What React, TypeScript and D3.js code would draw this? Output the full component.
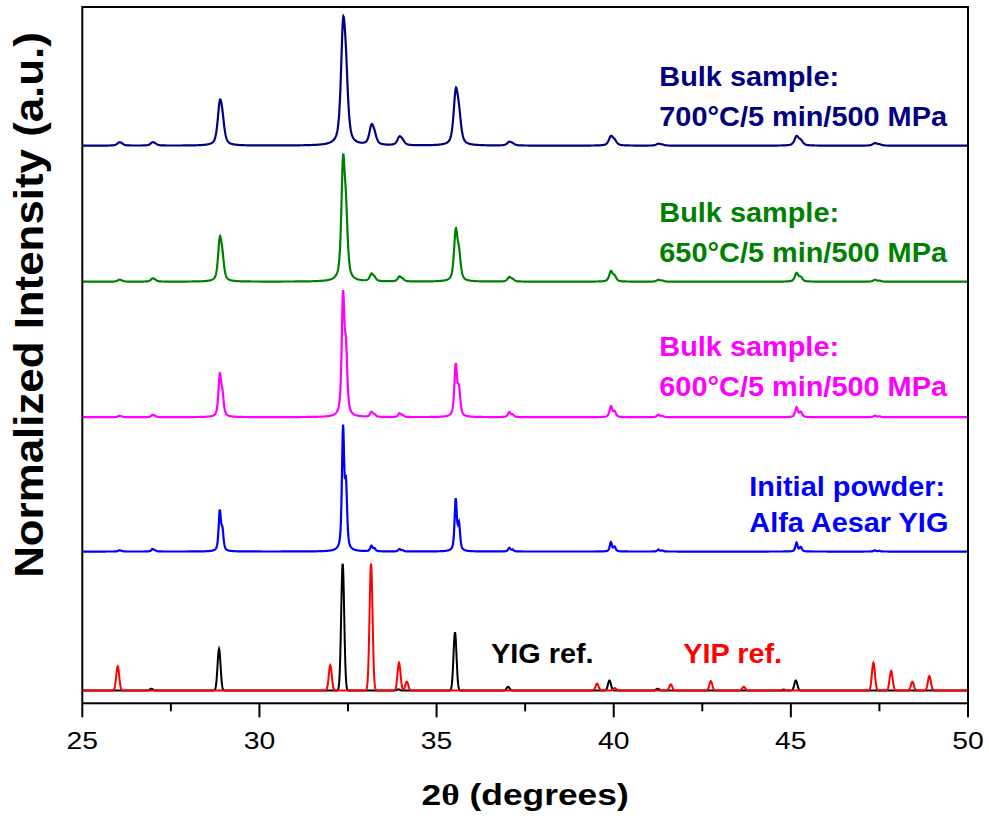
import React from "react";
import * as d3 from "d3";

// ---- data ----
const X_DOMAIN: [number, number] = [25, 50];
const X_MAJOR = [25, 30, 35, 40, 45, 50];
const X_MINOR = [27.5, 32.5, 37.5, 42.5, 47.5];

// common reflection positions of measured patterns (2θ, degrees)
const PEAK_POS = [26.04, 26.98, 28.88, 32.36, 33.16, 33.95, 35.54, 37.05, 39.92, 41.26, 45.16, 47.37];
const INT_700 = [0.026, 0.026, 0.355, 1.0, 0.16, 0.07, 0.45, 0.03, 0.077, 0.015, 0.077, 0.02];
const INT_650 = [0.015, 0.026, 0.355, 1.0, 0.06, 0.04, 0.42, 0.037, 0.085, 0.015, 0.07, 0.015];
const INT_600 = [0.01, 0.018, 0.345, 1.0, 0.04, 0.03, 0.425, 0.04, 0.087, 0.02, 0.08, 0.012];
const INT_POWDER = [0.01, 0.02, 0.33, 1.0, 0.045, 0.02, 0.42, 0.03, 0.074, 0.016, 0.07, 0.01];

// reference patterns
const YIG_POS = [26.95, 28.86, 32.35, 33.92, 35.52, 37.02, 39.88, 41.24, 45.14];
const YIG_INT = [0.015, 0.33, 1.0, 0.01, 0.46, 0.03, 0.08, 0.015, 0.08];
const YIP_POS = [26.0, 32.0, 33.15, 33.94, 34.16, 39.53, 40.03, 41.61, 42.74, 43.67, 44.8, 47.33, 47.83, 48.43, 48.91];
const YIP_INT = [0.19, 0.2, 1.0, 0.22, 0.07, 0.055, 0.02, 0.05, 0.075, 0.03, 0.01, 0.22, 0.155, 0.07, 0.115];

const LABEL_700 = ["Bulk sample:", "700°C/5 min/500 MPa"];
const LABEL_650 = ["Bulk sample:", "650°C/5 min/500 MPa"];
const LABEL_600 = ["Bulk sample:", "600°C/5 min/500 MPa"];
const LABEL_POWDER = ["Initial powder:", "Alfa Aesar YIG"];
const REF_LABELS = ["YIG ref.", "YIP ref."];
const X_TITLE = "(degrees)";
const Y_TITLE = "Normalized Intensity (a.u.)";

// ---- layout ----
const W = 989, H = 818;
const PL = 82.3, PR = 968, PT = 7, PB = 703.3;
const FONT = "'Liberation Sans', Arial, Helvetica, sans-serif";

const x = d3.scaleLinear().domain(X_DOMAIN).range([PL, PR]);
const y = d3.scaleLinear().domain([-0.1, 5.383]).range([PB, PT]);

const STEP = 0.01;
const GRID = d3.range(X_DOMAIN[0], X_DOMAIN[1] + STEP / 2, STEP);

function pv(d: number, w: number, eta: number) {
  const t = (d / w) * (d / w);
  return eta / (1 + 4 * t) + (1 - eta) * Math.exp(-4 * Math.LN2 * t);
}
const KA2 = 0.002512; // relative Cu Kα2 - Kα1 wavelength difference
function profile(pos: number[], ints: number[], w: number, eta: number, ka2: number) {
  return GRID.map((xx) => {
    let s = 0;
    pos.forEach((p, i) => {
      const dlt = ((2 * Math.tan(((p / 2) * Math.PI) / 180) * KA2) * 180) / Math.PI;
      const norm = 1 + ka2 * pv(dlt, w, eta);
      s += (ints[i] * (pv(xx - p, w, eta) + ka2 * pv(xx - p - dlt, w, eta))) / norm;
    });
    return [xx, s] as [number, number];
  });
}

const series = [
  { ints: INT_700, off: 4.291, w: 0.145, eta: 0.6, color: "#000080", label: LABEL_700, lx: 659.3, ly: [86, 126] },
  { ints: INT_650, off: 3.22, w: 0.115, eta: 0.6, color: "#008000", label: LABEL_650, lx: 659.3, ly: [221.7, 261.7] },
  { ints: INT_600, off: 2.153, w: 0.09, eta: 0.6, color: "#FF00FF", label: LABEL_600, lx: 659.3, ly: [356, 396] },
  { ints: INT_POWDER, off: 1.095, w: 0.075, eta: 0.6, color: "#0000FF", label: LABEL_POWDER, lx: 749.3, ly: [496, 532.3] },
];

function pathFor(data: [number, number][], off: number) {
  return d3
    .line<[number, number]>()
    .x((d) => x(d[0]))
    .y((d) => y(d[1] + off))(data) as string;
}

function SText(props: { x: number; y: number; size: number; sx: number; fill: string; weight?: string; anchor?: string; children: React.ReactNode }) {
  return (
    <text
      transform={`translate(${props.x},${props.y}) scale(${props.sx},1)`}
      fontFamily={FONT}
      fontSize={props.size}
      fontWeight={props.weight || "bold"}
      fill={props.fill}
      textAnchor={props.anchor || "start"}
    >
      {props.children}
    </text>
  );
}

export default function App() {
  const yig = profile(YIG_POS, YIG_INT, 0.1, 0, 0);
  const yip = profile(YIP_POS, YIP_INT, 0.1, 0, 0);
  return (
    <svg width={W} height={H} style={{ position: "absolute", left: 0, top: 0, background: "#fff" }}>
      <rect x={0} y={0} width={W} height={H} fill="#fff" />
      <defs>
        <clipPath id="clip">
          <rect x={PL} y={PT} width={PR - PL} height={PB - PT} />
        </clipPath>
      </defs>
      <g clipPath="url(#clip)">
        <path d={pathFor(yig, 0)} fill="none" stroke="#000" strokeWidth={2} />
        <path d={pathFor(yip, 0)} fill="none" stroke="#FF0000" strokeWidth={2} />
        {series.map((s, i) => (
          <path key={i} d={pathFor(profile(PEAK_POS, s.ints, s.w, s.eta, 0.5), s.off)} fill="none" stroke={s.color} strokeWidth={2.2} />
        ))}
      </g>
      {/* frame */}
      <rect x={PL} y={PT} width={PR - PL} height={PB - PT} fill="none" stroke="#000" strokeWidth={2} />
      {/* ticks */}
      {X_MAJOR.map((t) => (
        <g key={t}>
          <line x1={x(t)} x2={x(t)} y1={PB} y2={PB + 14} stroke="#000" strokeWidth={2} />
          <SText x={x(t)} y={749} size={24} sx={1.18} fill="#000" weight="normal" anchor="middle">
            {t}
          </SText>
        </g>
      ))}
      {X_MINOR.map((t) => (
        <line key={t} x1={x(t)} x2={x(t)} y1={PB} y2={PB + 8} stroke="#000" strokeWidth={2} />
      ))}
      {/* series labels */}
      {series.map((s, i) => (
        <g key={i}>
          {s.label.map((l, j) => (
            <SText key={j} x={s.lx} y={s.ly[j]} size={27} sx={1.07} fill={s.color}>
              {l}
            </SText>
          ))}
        </g>
      ))}
      <SText x={491} y={663.3} size={28} sx={1.03} fill="#000">
        {REF_LABELS[0]}
      </SText>
      <SText x={683.3} y={663.3} size={28} sx={1.03} fill="#FF0000">
        {REF_LABELS[1]}
      </SText>
      {/* axis titles */}
      <SText x={(PL + PR) / 2} y={805} size={29} sx={1.22} fill="#000" anchor="middle">
        <tspan>2</tspan>
        <tspan fontFamily="'Liberation Serif', 'Times New Roman', serif">θ</tspan>
        <tspan> {X_TITLE}</tspan>
      </SText>
      <text
        transform={`translate(43.3,305) rotate(-90) scale(1.07,1)`}
        fontFamily={FONT}
        fontSize={41}
        fontWeight="bold"
        textAnchor="middle"
        fill="#000"
      >
        {Y_TITLE}
      </text>
    </svg>
  );
}
